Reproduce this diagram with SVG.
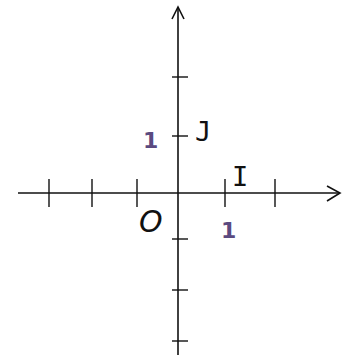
<svg xmlns="http://www.w3.org/2000/svg" width="351" height="358" viewBox="0 0 351 358">
<style>
.ax{stroke:#111;stroke-width:1.6;fill:none}
.tk{stroke:#111;stroke-width:1.4}
.lb{font-family:"DejaVu Sans Mono",monospace;font-size:27px;fill:#111}
.num{font-family:"DejaVu Sans",sans-serif;font-weight:bold;font-size:22px;fill:#5b4a80}
</style>
<rect width="351" height="358" fill="#fff"/>
<g id="connectors">
<line class="ax" x1="18" y1="193" x2="340" y2="193"/>
<polyline class="ax" points="327,186 340,193 327,201"/>
<line class="ax" x1="178" y1="355" x2="178" y2="7"/>
<polyline class="ax" points="172,19 178,7 184,19"/>
</g>
<g id="ticks">
<line class="tk" x1="49" y1="179" x2="49" y2="207"/>
<line class="tk" x1="92" y1="179" x2="92" y2="207"/>
<line class="tk" x1="137" y1="179" x2="137" y2="207"/>
<line class="tk" x1="225" y1="179" x2="225" y2="207"/>
<line class="tk" x1="275" y1="179" x2="275" y2="207"/>
<line class="tk" x1="172" y1="77" x2="188" y2="77"/>
<line class="tk" x1="172" y1="136" x2="188" y2="136"/>
<line class="tk" x1="172" y1="239" x2="188" y2="239"/>
<line class="tk" x1="172" y1="290" x2="188" y2="290"/>
<line class="tk" x1="172" y1="341" x2="188" y2="341"/>
</g>
<g id="labelJ"><text class="lb" x="195" y="141">J</text></g>
<g id="labelI"><text class="lb" x="232" y="186">I</text></g>
<g id="labelO"><text class="lb" x="139" y="232" font-style="italic" style="font-family:'DejaVu Sans',sans-serif;font-size:30px">O</text></g>
<g id="one-y"><text class="num" x="143" y="148">1</text></g>
<g id="one-x"><text class="num" x="221" y="238">1</text></g>
</svg>
